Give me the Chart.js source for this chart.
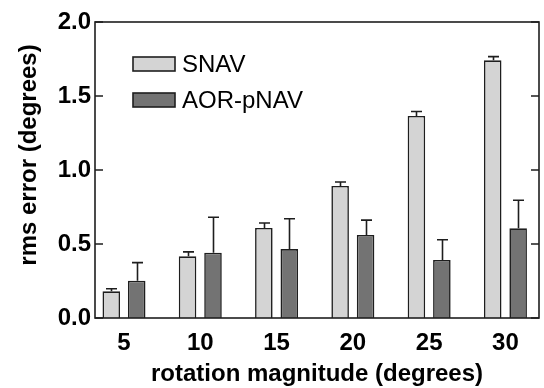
<!DOCTYPE html>
<html>
<head>
<meta charset="utf-8">
<script src="https://cdn.jsdelivr.net/npm/chart.js@4/dist/chart.umd.min.js"></script>
<style>
  html, body { margin: 0; padding: 0; background: #ffffff; }
  #wrap { width: 544px; height: 388px; position: relative; }
</style>
</head>
<body>
<div id="wrap"><canvas id="c" width="544" height="388"></canvas></div>
<script>
const categories = [5, 10, 15, 20, 25, 30];
const snavValues = [0.18, 0.417, 0.608, 0.892, 1.365, 1.741];
const snavErrors = [0.018, 0.03, 0.034, 0.027, 0.03, 0.025];
const aorValues = [0.252, 0.441, 0.466, 0.561, 0.392, 0.606];
const aorErrors = [0.122, 0.24, 0.205, 0.10, 0.137, 0.19];
const yTicks = [0, 0.5, 1.0, 1.5, 2.0];
const seriesLabels = ['SNAV', 'AOR-pNAV'];

const FONT = '"Liberation Sans", Arial, Helvetica, sans-serif';
const EDGE = '#1e1e1e';

const framePlugin = {
  id: 'frame',
  afterDatasetsDraw(chart) {
    const ctx = chart.ctx;
    const ys = chart.scales.y;
    ctx.save();
    ctx.strokeStyle = EDGE;
    ctx.lineWidth = 1.6;
    chart.data.datasets.forEach((ds, di) => {
      const meta = chart.getDatasetMeta(di);
      meta.data.forEach((bar, i) => {
        const v = ds.data[i].y;
        const e = ds.errors[i];
        const yTop = ys.getPixelForValue(v + e);
        const yBar = ys.getPixelForValue(v);
        const x = Math.round(bar.x) + 0.5;
        ctx.beginPath();
        ctx.moveTo(x, yBar);
        ctx.lineTo(x, yTop);
        ctx.moveTo(x - 5.5, yTop);
        ctx.lineTo(x + 5.5, yTop);
        ctx.stroke();
      });
    });
    ctx.restore();
  },
  afterDraw(chart) {
    const ctx = chart.ctx;
    const a = chart.chartArea;
    const ys = chart.scales.y;
    ctx.save();
    ctx.strokeStyle = EDGE;
    ctx.lineWidth = 1.6;
    ctx.strokeRect(a.left, a.top, a.right - a.left, a.bottom - a.top);
    ys.ticks.forEach(t => {
      const y = ys.getPixelForValue(t.value);
      ctx.beginPath();
      ctx.moveTo(a.left, y); ctx.lineTo(a.left + 8, y);
      ctx.moveTo(a.right, y); ctx.lineTo(a.right - 8, y);
      ctx.stroke();
    });
    // legend
    ctx.font = '24px ' + FONT;
    ctx.textBaseline = 'middle';
    ctx.textAlign = 'left';
    chart.data.datasets.forEach((ds, di) => {
      const bx = 133, by = 57 + di * 36, bw = 42, bh = 14;
      ctx.fillStyle = ds.backgroundColor;
      ctx.fillRect(bx, by, bw, bh);
      ctx.lineWidth = 1.6;
      ctx.strokeRect(bx, by, bw, bh);
      ctx.fillStyle = '#000';
      ctx.fillText(ds.label, 182, by + bh / 2 + 1);
    });
    // y title
    ctx.translate(29, 155);
    ctx.rotate(-Math.PI / 2);
    ctx.font = 'bold 24px ' + FONT;
    ctx.textAlign = 'center';
    ctx.textBaseline = 'middle';
    ctx.fillStyle = '#000';
    ctx.fillText('rms error (degrees)', 0, 0);
    ctx.restore();
  }
};

new Chart(document.getElementById('c'), {
  type: 'bar',
  data: {
    datasets: [
      {
        label: seriesLabels[0],
        data: categories.map((c, i) => ({ x: c, y: snavValues[i] })),
        errors: snavErrors,
        backgroundColor: '#d4d4d4',
        borderColor: EDGE,
        borderWidth: 1.6
      },
      {
        label: seriesLabels[1],
        data: categories.map((c, i) => ({ x: c, y: aorValues[i] })),
        errors: aorErrors,
        backgroundColor: '#737373',
        borderColor: EDGE,
        borderWidth: 1.6
      }
    ]
  },
  options: {
    responsive: false,
    animation: false,
    categoryPercentage: 0.667,
    barPercentage: 0.69,
    layout: { padding: { top: 22, right: 5, left: 0, bottom: 0 } },
    plugins: { legend: { display: false }, tooltip: { enabled: false } },
    scales: {
      x: {
        type: 'linear',
        min: 3.1,
        max: 32.2,
        offset: false,
        afterBuildTicks(scale) { scale.ticks = categories.map(v => ({ value: v })); },
        afterFit(scale) { scale.height = 70; },
        grid: { display: false, drawTicks: false },
        border: { display: false },
        ticks: {
          color: '#000',
          padding: 11,
          maxRotation: 0,
          autoSkip: false,
          font: { family: FONT, size: 24, weight: 'bold' },
          callback: v => String(v)
        },
        title: {
          display: true,
          text: 'rotation magnitude (degrees)',
          color: '#000',
          padding: 0,
          font: { family: FONT, size: 24, weight: 'bold', lineHeight: 1.15 }
        }
      },
      y: {
        min: 0,
        max: 2.0,
        afterBuildTicks(scale) { scale.ticks = yTicks.map(v => ({ value: v })); },
        afterFit(scale) { scale.width = 95; },
        grid: { display: false, drawTicks: false },
        border: { display: false },
        ticks: {
          color: '#000',
          padding: 4,
          font: { family: FONT, size: 24, weight: 'bold' },
          callback: v => Number(v).toFixed(1)
        }
      }
    }
  },
  plugins: [framePlugin]
});
</script>
</body>
</html>
